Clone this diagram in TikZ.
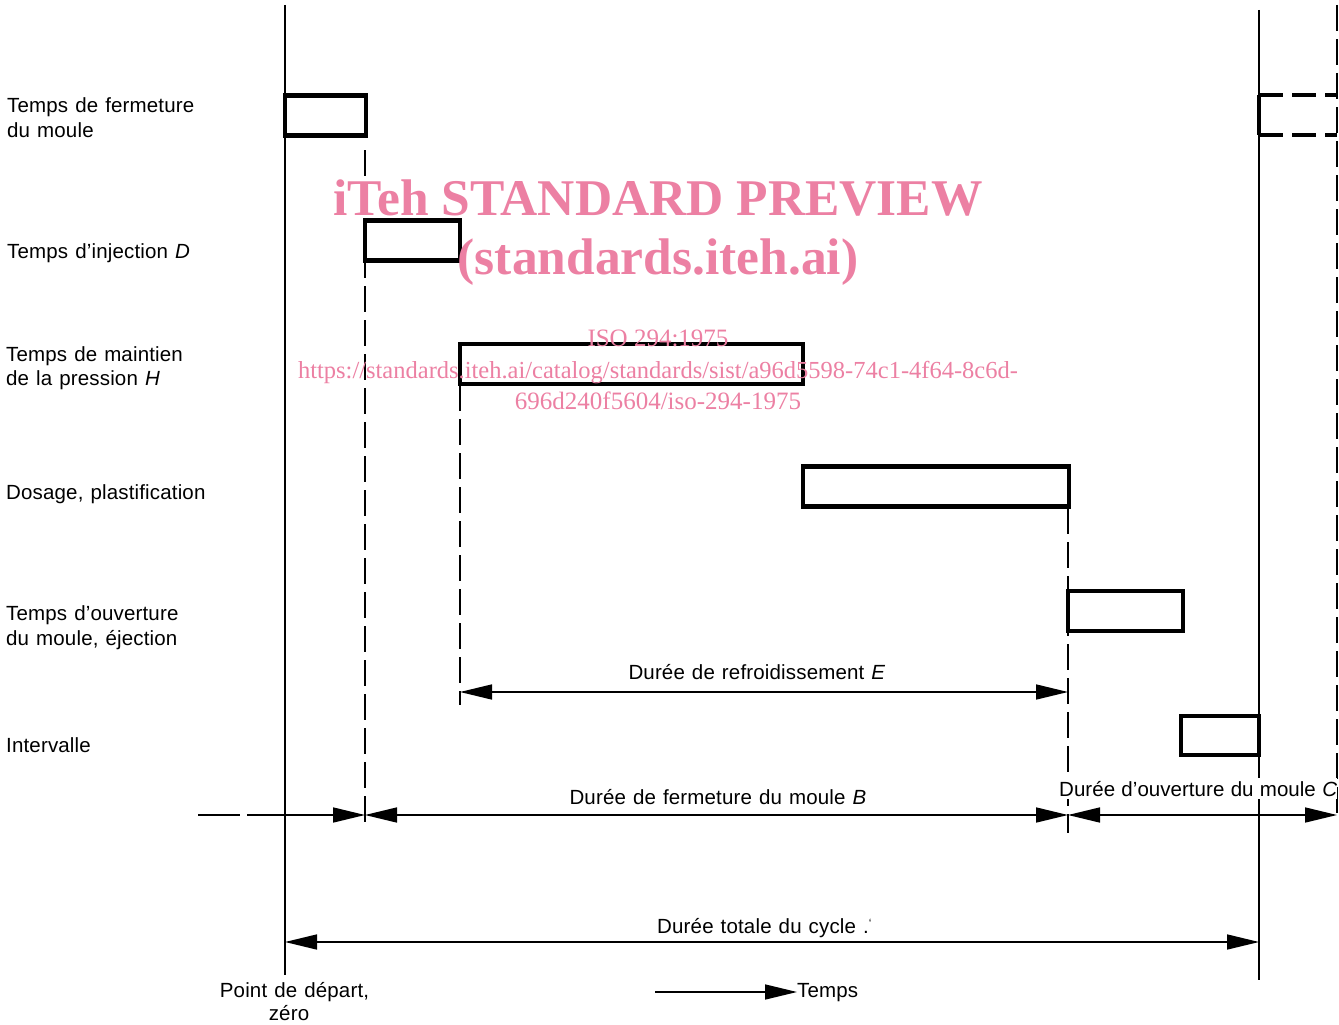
\documentclass[tikz,border=0pt]{standalone}
\usepackage{fontspec}
\setmainfont{Liberation Sans}[LetterSpace=0.8,WordSpace=1.2]
\newfontfamily\tightfont{Liberation Sans}[LetterSpace=0.2,WordSpace=1.1]
\newfontfamily\wmfont{Liberation Serif}
\usetikzlibrary{arrows.meta}
\definecolor{wm}{RGB}{236,128,163}
\begin{document}
\begin{tikzpicture}[x=1pt,y=-1pt,
  thinl/.style={line width=1.8pt},
  bar/.style={draw, line width=4.5pt, inner sep=0pt, outer sep=0pt, minimum height=40pt},
  guide/.style={line width=1.8pt, dash pattern=on 26pt off 8pt},
  lab/.style={font=\fontsize{20.5}{24}\selectfont, inner sep=0pt, anchor=base west},
  clab/.style={font=\fontsize{20.5}{24}\selectfont, inner sep=0pt, anchor=base},
  tip/.tip={Triangle[length=32pt,width=15pt]},
  dim/.style={line width=1.6pt},
  wmbig/.style={text=wm, font=\wmfont\bfseries\fontsize{51.5}{55}\selectfont, inner sep=0pt, anchor=base},
  wmsmall/.style={text=wm, font=\wmfont\fontsize{25}{28}\selectfont, inner sep=0pt, anchor=base}
]
\useasboundingbox (0,0) rectangle (1339,1025);

% main verticals
\coordinate (z0) at (285,5);
\coordinate (z1) at (285,975);
\coordinate (e0) at (1259,10);
\coordinate (e1) at (1259,980);
\coordinate (r0) at (1337,5);
\coordinate (r1) at (1337,820);
\draw[thinl] (z0) -- (z1);
\draw[thinl] (e0) -- (e1);
\draw[guide] (r0) -- (r1);

% bars
\node[bar, minimum width=81pt] (b1) at (325.5,115.5) {};
\node[bar, minimum width=95pt] (b2) at (412.5,240.5) {};
\node[bar, minimum width=343pt] (b3) at (631.5,364) {};
\node[bar, minimum width=266pt] (b4) at (936,486.5) {};
\node[bar, minimum width=115pt] (b5) at (1125.5,611) {};
\node[bar, minimum width=78pt, minimum height=39pt] (b6) at (1220,735.5) {};

% dashed next-cycle box
\coordinate (n1) at (1259,95);
\coordinate (n2) at (1337,95);
\coordinate (n3) at (1337,135);
\coordinate (n4) at (1259,135);
\draw[line width=4pt, dash pattern=on 24pt off 9pt] (n1) -- (n2);
\draw[line width=4pt, dash pattern=on 24pt off 9pt] (n4) -- (n3);
\draw[line width=4pt] (n1) -- (n4);

% dashed guides
\coordinate (g1a) at (365,150);
\coordinate (g1b) at (365,828);
\coordinate (g2a) at (460,385);
\coordinate (g2b) at (460,705);
\coordinate (g3a) at (1068,508);
\coordinate (g3b) at (1068,833);
\draw[guide] (g1a) -- (g1b);
\draw[guide] (g2a) -- (g2b);
\draw[guide] (g3a) -- (g3b);

% cooling time
\coordinate (c1) at (460,692);
\coordinate (c2) at (1068,692);
\draw[dim, tip-tip] (c1) -- (c2);
\node[clab] (lc) at (757,679) {Durée de refroidissement \textit{E}};

% bottom row
\coordinate (d0) at (198,815);
\coordinate (d1) at (285,815);
\coordinate (d2) at (365,815);
\coordinate (d3) at (1068,815);
\coordinate (d4) at (1337,815);
\draw[dim, dash pattern=on 42pt off 7pt] (d0) -- (d1);
\draw[dim, -tip] (d1) -- (d2);
\draw[dim, tip-tip] (d2) -- (d3);
\draw[dim, tip-tip] (d3) -- (d4);
\node[clab] (lb) at (718,804) {Durée de fermeture du moule \textit{B}};
\node[lab, font=\tightfont\fontsize{20.5}{24}\selectfont, fill=white, inner ysep=3pt, inner xsep=0pt] (lo) at (1059,796) {Durée d’ouverture du moule \textit{C}};

% total
\coordinate (t1) at (285,942);
\coordinate (t2) at (1259,942);
\draw[dim, tip-tip] (t1) -- (t2);
\node[lab] (lt) at (657,933) {Durée totale du cycle .\raisebox{0.5ex}{\fontsize{12}{12}\selectfont `}};

% time arrow
\coordinate (ta) at (655,992);
\node[lab] (lti) at (797,997) {Temps};
\draw[dim, -tip] (ta) -- (lti.west |- ta);

\node[clab] (p1) at (294.5,997) {Point de départ,};
\node[clab] (p2) at (289,1020) {zéro};

% row labels
\node[lab] (l1a) at (7,113) {Temps de fermeture};
\node[lab] (l1b) at (7,137) {du moule};
\node[lab] (l2) at (7,258) {Temps d’injection \textit{D}};
\node[lab] (l3a) at (6,361) {Temps de maintien};
\node[lab] (l3b) at (6,385) {de la pression \textit{H}};
\node[lab] (l4) at (6,499) {Dosage, plastification};
\node[lab] (l5a) at (6,620) {Temps d’ouverture};
\node[lab] (l5b) at (6,645) {du moule, éjection};
\node[lab] (l6) at (6,752) {Intervalle};

% watermark
\node[wmbig] (w1) at (658,215) {iTeh STANDARD PREVIEW};
\node[wmbig] (w2) at (658,274) {(standards.iteh.ai)};
\node[wmsmall] (w3) at (658,346) {ISO 294:1975};
\node[wmsmall, font=\wmfont\fontsize{24.5}{28}\selectfont] (w4) at (658,378) {https://standards.iteh.ai/catalog/standards/sist/a96d5598-74c1-4f64-8c6d-};
\node[wmsmall] (w5) at (658,409) {696d240f5604/iso-294-1975};
\end{tikzpicture}
\end{document}
